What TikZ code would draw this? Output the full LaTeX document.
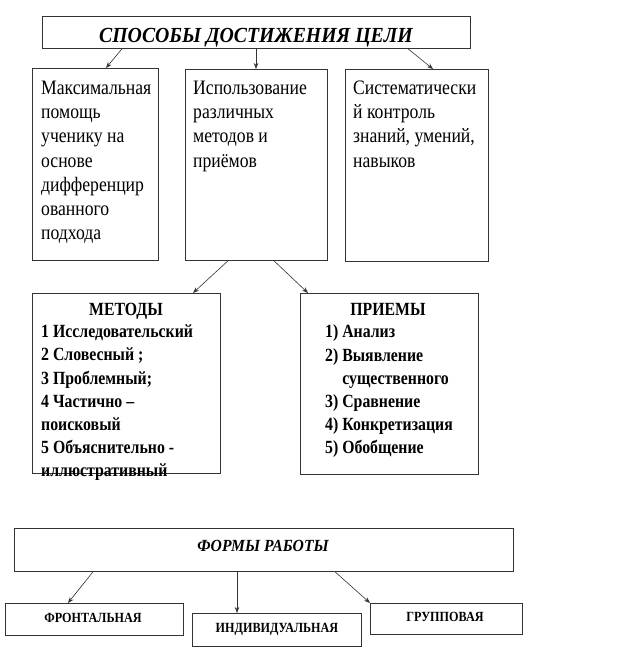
\documentclass[tikz,border=0pt]{standalone}
\usepackage{fontspec}
\setmainfont{Liberation Serif}[FakeStretch=0.85]
\newfontfamily\bodyfam{Liberation Serif}[FakeStretch=0.86]
\newfontfamily\titlefam{Liberation Serif}[FakeStretch=0.92]
\newfontfamily\smallfam{Liberation Serif}[FakeStretch=0.87]
\usetikzlibrary{arrows.meta}
\begin{document}
\begin{tikzpicture}[x=1pt,y=-1pt,
  box/.style={draw=black!80, line width=0.8pt, anchor=north west, inner sep=0pt},
  arr/.style={draw=black!80, line width=0.6pt, -{Stealth[length=6pt,width=4.5pt]}},
  body/.style={anchor=north west, inner sep=0pt, align=left, font=\bodyfam\fontsize{20.5}{24.3}\selectfont},
  list/.style={anchor=north west, inner sep=0pt, align=left, font=\fontsize{18.6}{23.2}\selectfont\bfseries},
  hdr/.style={anchor=base, inner sep=0pt, font=\fontsize{18.6}{22}\selectfont\bfseries},
  title/.style={anchor=base, inner sep=0pt, font=\titlefam\fontsize{21.5}{24}\selectfont\bfseries\itshape},
  ftitle/.style={anchor=base, inner sep=0pt, font=\titlefam\fontsize{17}{20}\selectfont\bfseries\itshape},
  small/.style={anchor=base, inner sep=0pt, font=\smallfam\fontsize{14}{16}\selectfont\bfseries}]
\useasboundingbox (0,0) rectangle (624,665);
% top
\node[box, minimum width=428pt, minimum height=32pt] (t) at (42,16) {};
\node[title] (tt) at (256,42.7) {СПОСОБЫ ДОСТИЖЕНИЯ ЦЕЛИ};
% three boxes
\node[box, minimum width=126pt, minimum height=192pt] (b1) at (32,68) {};
\node[box, minimum width=142pt, minimum height=191pt] (b2) at (185,69) {};
\node[box, minimum width=143pt, minimum height=192pt] (b3) at (345,69) {};
\node[body] (b1t) at (41,80.5) {Максимальная\\помощь\\ученику на\\основе\\дифференцир\\ованного\\подхода};
\node[body] (b2t) at (193,80.5) {Использование\\различных\\методов и\\приёмов};
\node[body] (b3t) at (353,80.5) {Систематически\\й контроль\\знаний, умений,\\навыков};
\draw[arr] ([xshift=80pt]t.south west) -- ([xshift=74pt]b1.north west);
\draw[arr] ([xshift=214pt]t.south west) -- ([xshift=71pt]b2.north west);
\draw[arr] ([xshift=366pt]t.south west) -- ([xshift=88pt]b3.north west);
% methods / techniques
\node[box, minimum width=188pt, minimum height=180pt] (m) at (32,293) {};
\node[box, minimum width=178pt, minimum height=181pt] (p) at (300,293) {};
\draw[arr] ([xshift=43pt]b2.south west) -- ([xshift=161pt]m.north west);
\draw[arr] ([xshift=89pt]b2.south west) -- ([xshift=8pt]p.north west);
\node[hdr] (mh) at (126,315) {МЕТОДЫ};
\node[list] (mt) at (41,324.7) {1 Исследовательский\\2 Словесный ;\\3 Проблемный;\\4 Частично –\\поисковый\\5 Объяснительно -\\иллюстративный};
\node[hdr] (ph) at (388,315) {ПРИЕМЫ};
\node[list] (pt) at (325,324.7) {1) Анализ\\2) Выявление\\\phantom{2) }существенного\\3) Сравнение\\4) Конкретизация\\5) Обобщение};
% forms
\node[box, minimum width=499pt, minimum height=43pt] (f) at (14,528) {};
\node[ftitle] (ft) at (263,551) {ФОРМЫ РАБОТЫ};
\node[box, minimum width=178pt, minimum height=32pt] (f1) at (5,603) {};
\node[box, minimum width=169pt, minimum height=33pt] (f2) at (192,613) {};
\node[box, minimum width=152pt, minimum height=31pt] (f3) at (370,603) {};
\node[small] (f1t) at (93,622.7) {ФРОНТАЛЬНАЯ};
\node[small] (f2t) at (277,632.7) {ИНДИВИДУАЛЬНАЯ};
\node[small] (f3t) at (445,621.7) {ГРУППОВАЯ};
\draw[arr] ([xshift=79pt]f.south west) -- ([xshift=63pt]f1.north west);
\draw[arr] ([xshift=223pt]f.south west) -- ([xshift=45pt]f2.north west);
\draw[arr] ([xshift=321pt]f.south west) -- (f3.north west);
\end{tikzpicture}
\end{document}
